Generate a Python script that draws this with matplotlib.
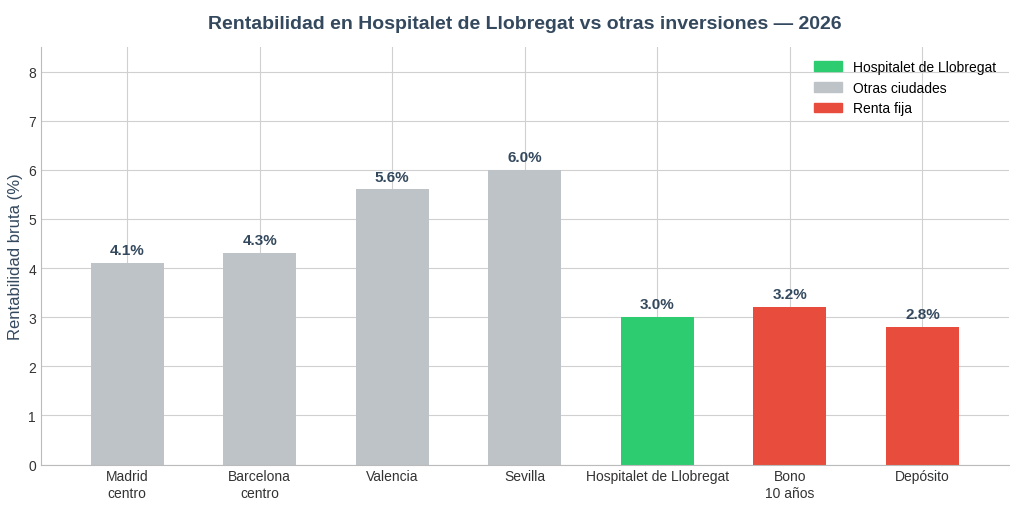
import matplotlib
matplotlib.use("Agg")
import matplotlib.pyplot as plt
from matplotlib.patches import Patch

categories = ["Madrid\ncentro", "Barcelona\ncentro", "Valencia", "Sevilla",
              "Hospitalet de Llobregat", "Bono\n10 años", "Depósito"]
values = [4.1, 4.3, 5.6, 6.0, 3.0, 3.2, 2.8]
groups = ["otras", "otras", "otras", "otras", "hosp", "fija", "fija"]
colors = {"hosp": "#2ecc71", "otras": "#bdc3c7", "fija": "#e74c3c"}

plt.rcParams["font.family"] = ["Liberation Sans", "DejaVu Sans"]
fig, ax = plt.subplots(figsize=(10.24, 5.06), dpi=100)
x = range(len(categories))
ax.bar(x, values, width=0.55, color=[colors[g] for g in groups], zorder=2)
for i, v in zip(x, values):
    ax.text(i, v + 0.12, f"{v:.1f}%", ha="center", va="bottom",
            fontsize=11, fontweight="bold", color="#34495e")
ax.set_xticks(list(x))
ax.set_xticklabels(categories, fontsize=10)
ax.set_ylim(0, 8.5)
ax.set_xlim(-0.65, 6.65)
ax.set_yticks(range(9))
ax.set_ylabel("Rentabilidad bruta (%)", fontsize=12, color="#34495e")
ax.set_title("Rentabilidad en Hospitalet de Llobregat vs otras inversiones — 2026",
             fontsize=14, fontweight="bold", color="#34495e", pad=14)
ax.grid(True, color="#d0d0d0", linewidth=0.8, zorder=0)
ax.set_axisbelow(True)
for s in ["top", "right"]:
    ax.spines[s].set_visible(False)
for s in ["left", "bottom"]:
    ax.spines[s].set_color("#bbbbbb")
ax.tick_params(length=0, labelcolor="#333333")
handles = [Patch(color=colors["hosp"], label="Hospitalet de Llobregat"),
           Patch(color=colors["otras"], label="Otras ciudades"),
           Patch(color=colors["fija"], label="Renta fija")]
ax.legend(handles=handles, loc="upper right", frameon=False, fontsize=10)
fig.subplots_adjust(left=0.04, right=0.985, top=0.905, bottom=0.08)
fig.savefig("out.png")
